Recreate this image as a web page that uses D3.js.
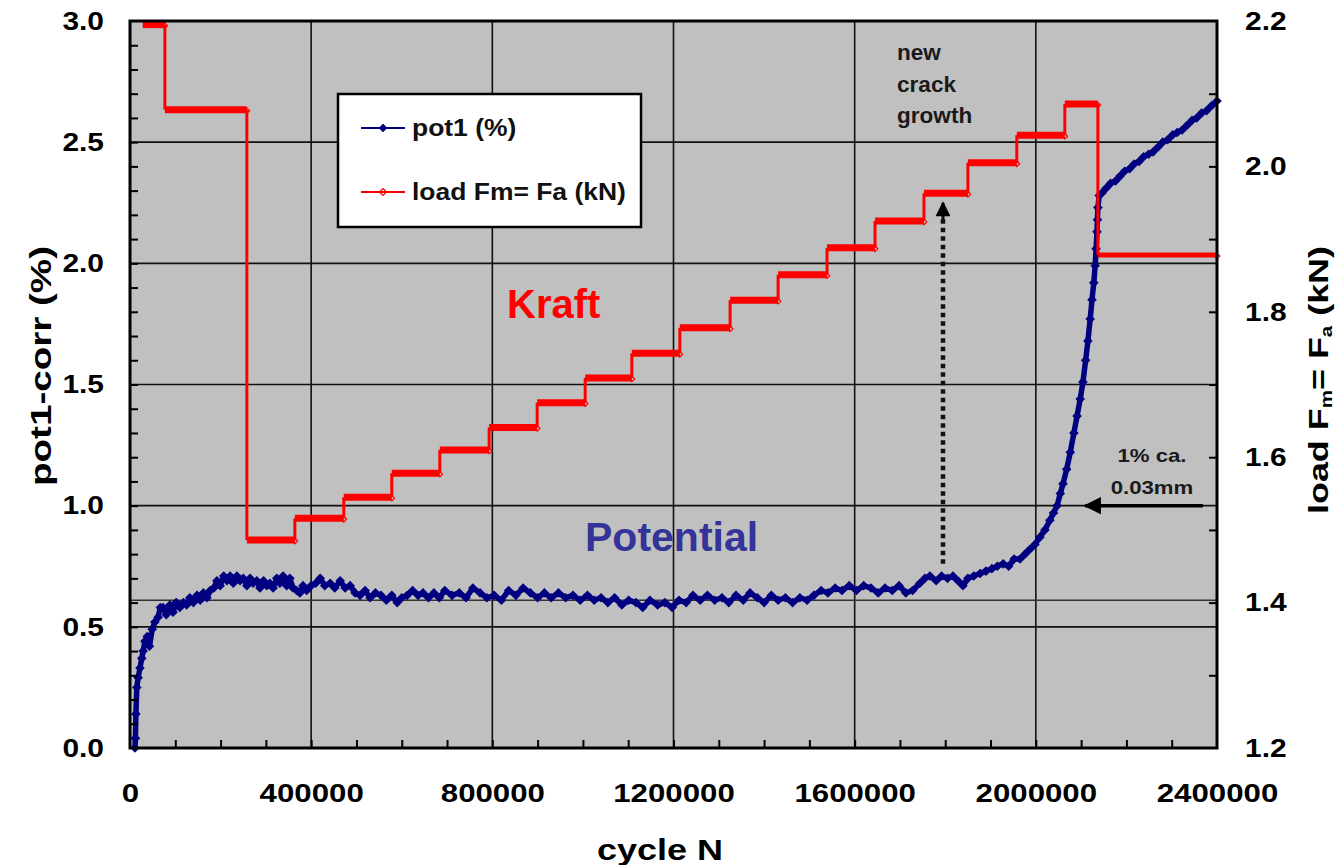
<!DOCTYPE html>
<html>
<head>
<meta charset="utf-8">
<script src="https://cdn.jsdelivr.net/npm/d3@7"></script>
<style>
body { margin: 0; background: #fff; }
text { font-family: "Liberation Sans", Arial, sans-serif; font-weight: bold; }
</style>
</head>
<body>
<div id="chart"></div>
<script>
// pot1 (%) readings: [cycles in thousands, percent]
const pot1 = [
  [11,0.00],[12,0.04],[13,0.14],[15,0.25],[18,0.29],[22,0.33],[26,0.37],[29,0.40],[33,0.44],[38,0.46],
  [43,0.42],[49,0.49],[55,0.52],[62,0.54],[67,0.58],[73,0.58],[80,0.55],[88,0.59],[95,0.56],[102,0.60],
  [110,0.58],[118,0.60],[125,0.59],[132,0.62],[140,0.60],[148,0.63],[155,0.61],[162,0.64],[170,0.62],[177,0.65],
  [185,0.66],[192,0.69],[199,0.67],[207,0.71],[214,0.69],[221,0.71],[228,0.68],[236,0.71],[243,0.69],[250,0.70],
  [258,0.67],[265,0.70],[272,0.68],[280,0.69],[287,0.66],[295,0.69],[302,0.67],[309,0.68],[316,0.66],[324,0.70],
  [331,0.68],[338,0.71],[346,0.67],[353,0.70],[360,0.66],[368,0.65],[375,0.64],[382,0.67],[390,0.65],[400,0.67],
  [410,0.68],[420,0.70],[430,0.67],[442,0.68],[452,0.66],[464,0.69],[475,0.66],[486,0.67],[497,0.64],[508,0.63],
  [519,0.65],[530,0.62],[542,0.64],[554,0.63],[566,0.61],[578,0.63],[590,0.60],[600,0.62],[612,0.63],[624,0.65],
  [636,0.63],[647,0.64],[659,0.62],[671,0.64],[683,0.62],[695,0.65],[711,0.63],[727,0.64],[742,0.62],[757,0.66],
  [773,0.64],[788,0.62],[804,0.63],[820,0.61],[836,0.65],[852,0.63],[868,0.66],[884,0.64],[900,0.62],[915,0.64],
  [930,0.62],[946,0.64],[962,0.62],[978,0.63],[994,0.61],[1010,0.63],[1025,0.61],[1040,0.62],[1055,0.60],[1070,0.62],
  [1086,0.59],[1101,0.61],[1117,0.60],[1132,0.58],[1148,0.61],[1165,0.59],[1181,0.60],[1197,0.58],[1212,0.61],[1228,0.60],
  [1243,0.63],[1259,0.61],[1275,0.63],[1291,0.61],[1307,0.62],[1322,0.60],[1338,0.63],[1354,0.61],[1369,0.64],[1385,0.62],
  [1400,0.60],[1416,0.63],[1431,0.61],[1447,0.62],[1463,0.60],[1479,0.62],[1495,0.61],[1510,0.63],[1526,0.65],[1541,0.64],
  [1557,0.66],[1572,0.65],[1588,0.67],[1604,0.65],[1620,0.67],[1636,0.66],[1652,0.64],[1667,0.66],[1683,0.65],[1698,0.67],
  [1713,0.64],[1728,0.65],[1744,0.68],[1755,0.70],[1766,0.71],[1780,0.69],[1792,0.71],[1805,0.70],[1817,0.71],[1828,0.69],
  [1839,0.67],[1850,0.70],[1863,0.71],[1877,0.72],[1890,0.73],[1903,0.74],[1915,0.75],[1928,0.76],[1940,0.75],[1952,0.78],
  [1965,0.78],[1976,0.80],[1987,0.82],[1998,0.84],[2009,0.87],[2020,0.90],[2031,0.94],[2039,0.97],[2047,1.00],[2054,1.05],
  [2060,1.09],[2068,1.15],[2076,1.22],[2084,1.30],[2091,1.37],[2098,1.44],[2104,1.51],[2110,1.60],[2115,1.68],[2120,1.77],
  [2124,1.85],[2128,1.92],[2131,1.99],[2133,2.06],[2135,2.13],[2136,2.18],[2137,2.23],[2140,2.28],[2146,2.29],[2155,2.31],
  [2165,2.33],[2176,2.34],[2186,2.36],[2196,2.38],[2207,2.39],[2217,2.41],[2228,2.42],[2238,2.44],[2249,2.45],[2259,2.46],
  [2270,2.48],[2280,2.50],[2291,2.51],[2302,2.53],[2312,2.54],[2323,2.55],[2334,2.57],[2345,2.59],[2355,2.60],[2366,2.62],
  [2377,2.63],[2388,2.65],[2400,2.67]
];

// load steps: [start cycles (k), end cycles (k), load kN]
const loadSteps = [
  [28,77,2.195],[77,258,2.078],[258,364,1.486],[364,472,1.516],[472,578,1.545],[578,684,1.578],
  [684,793,1.610],[793,899,1.641],[899,1005,1.675],[1005,1108,1.709],[1108,1214,1.743],[1214,1325,1.778],
  [1325,1431,1.816],[1431,1539,1.851],[1539,1645,1.888],[1645,1753,1.925],[1753,1850,1.963],[1850,1958,2.005],
  [1958,2064,2.043],[2064,2137,2.086],[2137,2400,1.878]
];

const xTicks = [0, 400000, 800000, 1200000, 1600000, 2000000, 2400000];
const yLeftTicks = [0, 0.5, 1.0, 1.5, 2.0, 2.5, 3.0];
const yRightTicks = [1.2, 1.4, 1.6, 1.8, 2.0, 2.2];
const refLevel = 0.61;             // horizontal reference line (pot1 %)
const crackArrow = [1795000, 0.76, 2.25];   // cycles, from %, to %
const mmArrow = [2369000, 2109000, 1.0];    // from cycles, to cycles, %

let margin = {left: 130, right: 121, top: 21, bottom: 117};
let W = 1338, H = 865;
let width = W - margin.left - margin.right;
let height = H - margin.top - margin.bottom;

let svg = d3.select("#chart").append("svg")
  .attr("width", W).attr("height", H)
  .append("g")
  .attr("transform", "translate(" + margin.left + "," + margin.top + ")");

let x = d3.scaleLinear().domain([0, 2400000]).range([0, width]);
let yL = d3.scaleLinear().domain([0, 3]).range([height, 0]);
let yR = d3.scaleLinear().domain([1.2, 2.2]).range([height, 0]);

function stretch(sel, k) {
  sel.each(function() {
    let w = this.getComputedTextLength();
    this.setAttribute("textLength", w * k);
    this.setAttribute("lengthAdjust", "spacingAndGlyphs");
  });
}

// plot background
svg.append("rect").attr("width", width).attr("height", height).attr("fill", "#c0c0c0");

// grid
svg.selectAll(".vgrid").data(xTicks.slice(1, -1)).enter().append("line")
  .attr("x1", d => x(d)).attr("x2", d => x(d)).attr("y1", 0).attr("y2", height)
  .attr("stroke", "#111").attr("stroke-width", 1.6);
svg.selectAll(".hgrid").data(yLeftTicks.slice(1, -1)).enter().append("line")
  .attr("x1", 0).attr("x2", width).attr("y1", d => yL(d)).attr("y2", d => yL(d))
  .attr("stroke", "#111").attr("stroke-width", 1.6);
svg.append("line").attr("x1", 0).attr("x2", width)
  .attr("y1", yL(refLevel)).attr("y2", yL(refLevel))
  .attr("stroke", "#333").attr("stroke-width", 1.4);

// pot1 series
let diamond = r => `M0,${-r}L${r},0L0,${r}L${-r},0Z`;
let potLine = d3.line().x(d => x(d[0] * 1000)).y(d => yL(d[1]));
svg.append("path").datum(pot1).attr("d", potLine)
  .attr("fill", "none").attr("stroke", "#000080").attr("stroke-width", 5.5)
  .attr("stroke-linejoin", "round");
svg.selectAll(".pt").data(pot1).enter().append("path")
  .attr("d", diamond(4.8))
  .attr("transform", d => `translate(${x(d[0] * 1000)},${yL(d[1])})`)
  .attr("fill", "#000080");

// load series (steps)
let red = "#ff0000";
svg.selectAll(".riser").data(loadSteps.slice(1)).enter().append("line")
  .attr("x1", d => x(d[0] * 1000)).attr("x2", d => x(d[0] * 1000))
  .attr("y1", (d, i) => yR(loadSteps[i][2])).attr("y2", d => yR(d[2]))
  .attr("stroke", red).attr("stroke-width", 3);
svg.selectAll(".plateau").data(loadSteps).enter().append("line")
  .attr("x1", d => x(d[0] * 1000)).attr("x2", d => x(d[1] * 1000))
  .attr("y1", d => yR(d[2])).attr("y2", d => yR(d[2]))
  .attr("stroke", red).attr("stroke-width", (d, i) => i == loadSteps.length - 1 ? 5 : 7);
svg.selectAll(".rpt").data(loadSteps).enter().append("path")
  .attr("d", diamond(2.8))
  .attr("transform", d => `translate(${x(d[1] * 1000)},${yR(d[2]) + 1})`)
  .attr("fill", "none").attr("stroke", red).attr("stroke-width", 1.2);

// frame
svg.append("rect").attr("width", width).attr("height", height)
  .attr("fill", "none").attr("stroke", "#000").attr("stroke-width", 3);

// minor ticks (inward)
let minorStyle = g => { g.select(".domain").remove(); g.selectAll("line").attr("stroke", "#000").attr("stroke-width", 2); };
svg.append("g").attr("transform", "translate(0," + height + ")")
  .call(d3.axisBottom(x).tickValues(d3.range(100000, 2400000, 100000)).tickSize(-8).tickFormat(""))
  .call(minorStyle);
svg.append("g")
  .call(d3.axisLeft(yL).tickValues(d3.range(1, 30).map(d => d / 10)).tickSize(-8).tickFormat(""))
  .call(minorStyle);
svg.append("g").attr("transform", "translate(" + width + ",0)")
  .call(d3.axisRight(yR).tickValues(d3.range(13, 22).map(d => d / 10)).tickSize(-8).tickFormat(""))
  .call(minorStyle);

// tick labels
let labelStyle = g => {
  g.select(".domain").remove();
  g.selectAll("line").remove();
  g.attr("font-size", 26);
  g.selectAll("text").attr("fill", "#000");
};
let xl = svg.append("g").attr("transform", "translate(0," + height + ")")
  .call(d3.axisBottom(x).tickValues(xTicks).tickSize(0).tickPadding(36).tickFormat(d3.format("d")))
  .call(labelStyle);
let yll = svg.append("g")
  .call(d3.axisLeft(yL).tickValues(yLeftTicks).tickSize(0).tickPadding(26).tickFormat(d3.format(".1f")))
  .call(labelStyle);
let yrl = svg.append("g").attr("transform", "translate(" + width + ",0)")
  .call(d3.axisRight(yR).tickValues(yRightTicks).tickSize(0).tickPadding(28).tickFormat(d3.format(".1f")))
  .call(labelStyle);
stretch(xl.selectAll("text"), 1.2);
stretch(yll.selectAll("text"), 1.15);
stretch(yrl.selectAll("text"), 1.15);

// axis titles
let xt = svg.append("text").attr("x", 530).attr("y", 839)
  .attr("text-anchor", "middle").attr("font-size", 30).attr("fill", "#000").text("cycle N");
stretch(xt, 1.2);
svg.append("text")
  .attr("transform", "translate(" + (-79) + "," + 345 + ") rotate(-90)")
  .attr("text-anchor", "middle").attr("font-size", 29).attr("fill", "#000")
  .attr("textLength", 240).attr("lengthAdjust", "spacingAndGlyphs")
  .text("pot1-corr (%)");
let rt = svg.append("text")
  .attr("transform", "translate(" + (width + 111) + "," + 359 + ") rotate(-90)")
  .attr("text-anchor", "middle").attr("font-size", 28).attr("fill", "#000")
  .attr("textLength", 268).attr("lengthAdjust", "spacingAndGlyphs");
rt.append("tspan").text("load F");
rt.append("tspan").attr("font-size", 16).attr("dy", 4).text("m");
rt.append("tspan").attr("dy", -4).text("= F");
rt.append("tspan").attr("font-size", 16).attr("dy", 4).text("a");
rt.append("tspan").attr("dy", -4).text(" (kN)");

// legend
let lg = svg.append("g").attr("transform", "translate(208,73)");
lg.append("rect").attr("width", 303).attr("height", 133)
  .attr("fill", "#fff").attr("stroke", "#000").attr("stroke-width", 2.5);
let legendItems = [["pot1 (%)", "#000080", true], ["load Fm= Fa (kN)", red, false]];
let li = lg.selectAll(".li").data(legendItems).enter().append("g")
  .attr("transform", (d, i) => "translate(0," + (34 + i * 64) + ")");
li.append("line").attr("x1", 23).attr("x2", 67).attr("stroke", d => d[1]).attr("stroke-width", 2);
li.append("path").attr("d", diamond(3.5)).attr("transform", "translate(45,0)")
  .attr("fill", d => d[2] ? d[1] : "none").attr("stroke", d => d[1]).attr("stroke-width", 1.2);
let lt = li.append("text").attr("x", 74).attr("y", 8).attr("font-size", 23).attr("fill", "#111").text(d => d[0]);
stretch(lt, 1.15);

// annotations
[["new", 39], ["crack", 71], ["growth", 102]].forEach(t => {
  let s = svg.append("text").attr("x", 767).attr("y", t[1]).attr("font-size", 21.5).attr("fill", "#1a1a1a").text(t[0]);
  stretch(s, 1.05);
});

let defs = svg.append("defs");
defs.append("marker").attr("id", "ah")
  .attr("viewBox", "0 0 10 10").attr("refX", 9).attr("refY", 5)
  .attr("markerWidth", 5).attr("markerHeight", 5).attr("orient", "auto")
  .attr("markerUnits", "strokeWidth")
  .append("path").attr("d", "M0,0L10,5L0,10Z").attr("fill", "#000");
defs.append("marker").attr("id", "ah2")
  .attr("viewBox", "0 0 10 10").attr("refX", 9).attr("refY", 5)
  .attr("markerWidth", 6).attr("markerHeight", 5).attr("orient", "auto")
  .attr("markerUnits", "strokeWidth")
  .append("path").attr("d", "M0,0L10,5L0,10Z").attr("fill", "#000");

svg.append("line")
  .attr("x1", x(crackArrow[0])).attr("x2", x(crackArrow[0]))
  .attr("y1", yL(crackArrow[1])).attr("y2", yL(crackArrow[2]) + 16)
  .attr("stroke", "#111").attr("stroke-width", 4.5).attr("stroke-dasharray", "4.5,4");
svg.append("line")
  .attr("x1", x(crackArrow[0])).attr("x2", x(crackArrow[0]))
  .attr("y1", yL(crackArrow[2]) + 18).attr("y2", yL(crackArrow[2]))
  .attr("stroke", "#111").attr("stroke-width", 3).attr("marker-end", "url(#ah2)");

svg.append("line")
  .attr("x1", x(mmArrow[0])).attr("x2", x(mmArrow[1]))
  .attr("y1", yL(mmArrow[2])).attr("y2", yL(mmArrow[2]))
  .attr("stroke", "#000").attr("stroke-width", 3.5).attr("marker-end", "url(#ah)");

[["1% ca.", 441], ["0.03mm", 473]].forEach(t => {
  let s = svg.append("text").attr("x", 1022).attr("y", t[1]).attr("text-anchor", "middle")
    .attr("font-size", 18.5).attr("fill", "#1a1a1a").text(t[0]);
  stretch(s, 1.2);
});

svg.append("text").attr("x", 377).attr("y", 297).attr("font-size", 40)
  .attr("fill", "#ff0000").text("Kraft");
svg.append("text").attr("x", 455).attr("y", 530).attr("font-size", 41)
  .attr("fill", "#333399").text("Potential");
</script>
</body>
</html>
